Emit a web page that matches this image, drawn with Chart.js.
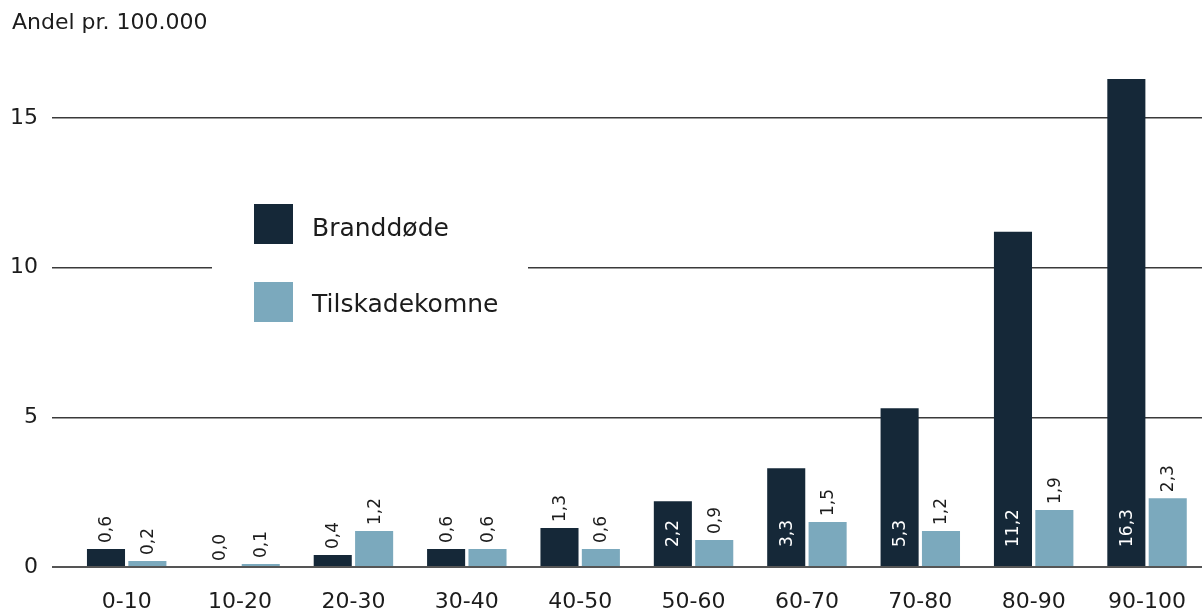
<!DOCTYPE html>
<html>
<head>
<meta charset="utf-8">
<script src="https://cdn.jsdelivr.net/npm/chart.js@4/dist/chart.umd.min.js"></script>
<style>
html,body{margin:0;padding:0;background:#fff;overflow:hidden;}
#wrap{width:1208px;height:616px;position:relative;}
</style>
</head>
<body>
<div id="wrap"><canvas id="c"></canvas></div>
<script>
const categories = ['0-10','10-20','20-30','30-40','40-50','50-60','60-70','70-80','80-90','90-100'];
const branddode = [0.6, 0.0, 0.4, 0.6, 1.3, 2.2, 3.3, 5.3, 11.2, 16.3];
const tilskadekomne = [0.2, 0.1, 1.2, 0.6, 0.6, 0.9, 1.5, 1.2, 1.9, 2.3];
const seriesNames = ['Branddøde', 'Tilskadekomne'];
const yTicks = [0, 5, 10, 15];
const yTitle = 'Andel pr. 100.000';

const FONT = '"DejaVu Sans", sans-serif';
const DARK = '#152838';
const LIGHT = '#7ba9bd';
const TEXT = '#1c1c1c';

const fmt = v => v.toFixed(1).replace('.', ',');

const titlePlugin = {
  id: 'titlePlugin',
  afterDraw(chart) {
    const ctx = chart.ctx;
    ctx.save();
    ctx.font = '22px ' + FONT;
    ctx.fillStyle = TEXT;
    ctx.textAlign = 'left';
    ctx.textBaseline = 'alphabetic';
    ctx.fillText(yTitle, 12, 29);
    ctx.restore();
  }
};

const legendPlugin = {
  id: 'legendPlugin',
  beforeDatasetsDraw(chart) {
    const ctx = chart.ctx;
    ctx.save();
    ctx.fillStyle = '#ffffff';
    ctx.fillRect(212, 195, 316, 135);
    const ys = [204, 282];
    const baselines = [236, 312];
    chart.data.datasets.forEach((ds, i) => {
      ctx.fillStyle = ds.backgroundColor;
      ctx.fillRect(254, ys[i], 39, 40);
      ctx.fillStyle = TEXT;
      ctx.font = '25px ' + FONT;
      ctx.textAlign = 'left';
      ctx.textBaseline = 'alphabetic';
      ctx.fillText(ds.label, 312, baselines[i]);
    });
    ctx.restore();
  }
};

const valueLabels = {
  id: 'valueLabels',
  afterDatasetsDraw(chart) {
    const ctx = chart.ctx;
    ctx.save();
    ctx.font = '17px ' + FONT;
    ctx.textBaseline = 'middle';
    ctx.textAlign = 'left';
    chart.data.datasets.forEach((ds, di) => {
      const meta = chart.getDatasetMeta(di);
      meta.data.forEach((bar, i) => {
        const v = ds.data[i];
        const inside = di === 0 && v >= 2;
        ctx.save();
        if (inside) {
          ctx.translate(bar.x, bar.base - 19);
          ctx.fillStyle = '#ffffff';
        } else {
          ctx.translate(bar.x, bar.y - 6);
          ctx.fillStyle = TEXT;
        }
        ctx.rotate(-Math.PI / 2);
        ctx.fillText(fmt(v), 0, 1);
        ctx.restore();
      });
    });
    ctx.restore();
  }
};

new Chart(document.getElementById('c'), {
  type: 'bar',
  data: {
    labels: categories,
    datasets: [
      { label: seriesNames[0], data: branddode, backgroundColor: DARK },
      { label: seriesNames[1], data: tilskadekomne, backgroundColor: LIGHT }
    ]
  },
  options: {
    responsive: true,
    maintainAspectRatio: false,
    animation: false,
    categoryPercentage: 0.73,
    barPercentage: 0.92,
    layout: { padding: { top: 58, right: 0, left: 0, bottom: 0 } },
    plugins: { legend: { display: false }, tooltip: { enabled: false }, title: { display: false } },
    scales: {
      x: {
        afterFit(scale) { scale.height = 49; },
        grid: { display: false, drawTicks: false },
        border: { display: false },
        ticks: { color: TEXT, font: { family: FONT, size: 22 }, padding: 22, maxRotation: 0 }
      },
      y: {
        min: 0,
        max: 17,
        afterBuildTicks(scale) { scale.ticks = yTicks.map(v => ({ value: v })); },
        afterFit(scale) { scale.width = 70; },
        border: { display: false },
        grid: {
          color: c => (c.tick && c.tick.value === 0) ? '#555555' : '#3a3a3a',
          lineWidth: c => (c.tick && c.tick.value === 0) ? 2 : 1.5,
          tickLength: 18,
          drawTicks: true
        },
        ticks: { color: TEXT, font: { family: FONT, size: 22 }, padding: 14 }
      }
    }
  },
  plugins: [titlePlugin, legendPlugin, valueLabels]
});
</script>
</body>
</html>
